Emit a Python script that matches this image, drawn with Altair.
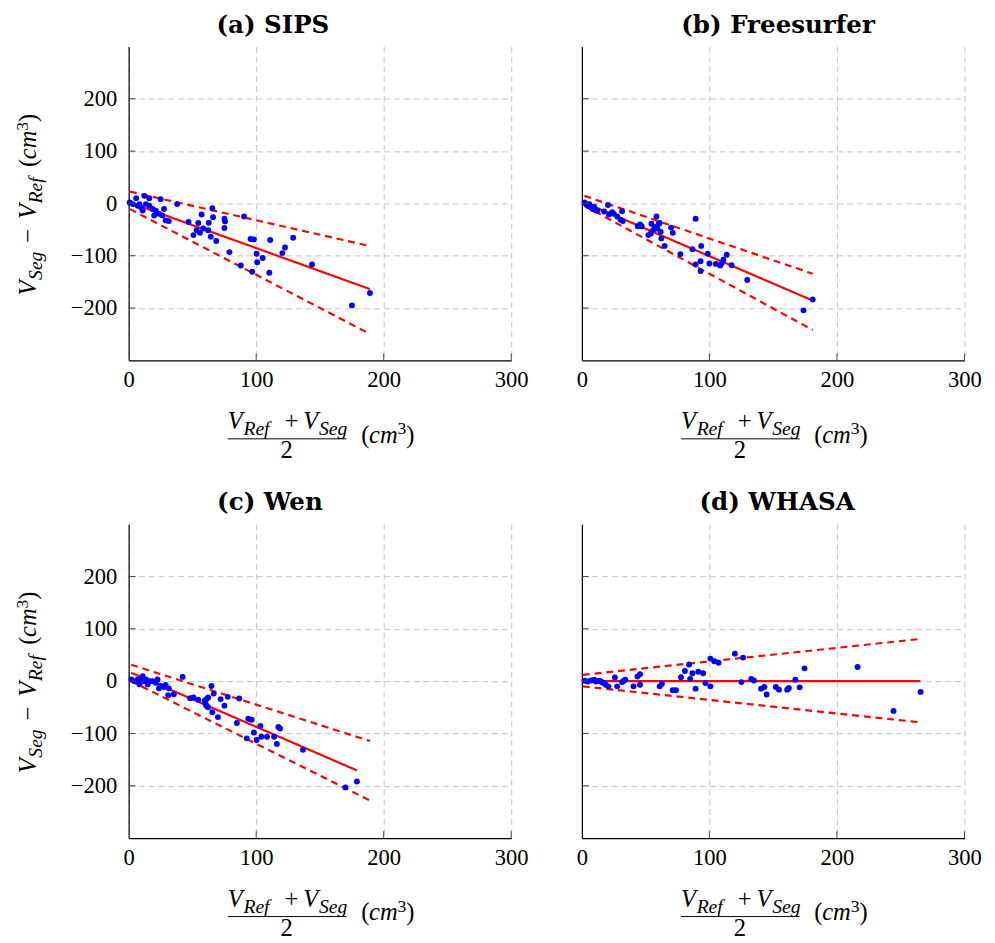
import altair as alt
import pandas as pd

# ---------------- data ----------------
X_TICKS = [0, 100, 200, 300]
Y_TICKS = [-200, -100, 0, 100, 200]

# (a) SIPS
SIPS_X = [0.8, 3.3, 5.9, 7.2, 8.5, 9.7, 11, 12.3, 13.6, 16.2, 16.2, 18.7, 20, 21.3, 23.8, 25.1, 26.4, 27.7, 29, 31.5,
          38, 46.9, 50.8, 53.3, 54.6, 55.9, 57.2, 58.5, 62.3, 62.8, 64.4, 65.6, 66.2, 68.7, 75.1, 75.6, 75.1, 79,
          87.9, 90.5, 95.6, 98.2, 96.9, 100.3, 100.8, 105.1, 110.3, 111, 120.5, 122.6, 129, 143.8, 175.1, 189.2]
SIPS_Y = [1.9, -1.3, 10, -4.4, -1.3, -7.5, -13.8, 14.4, -1.3, 10, -4.4, -10.6, -23, -13.8, -20, 8.1, -23, -10.6, -32.5, -33.8,
          -1.3, -35.6, -60.6, -51.3, -37.5, -56.3, -21.3, -48.1, -51.3, -36.9, -63.8, -9.4, -26.3, -71.9, -29.4, -34.4, -46.9, -93.1,
          -118.8, -25, -68.1, -68.8, -130.6, -96.3, -112.5, -104.4, -132.5, -70, -95, -84.4, -65.6, -116.9, -195, -171.3]

# (b) Freesurfer
FS_X = [2.1, 3.3, 4.6, 5.9, 7.2, 8.5, 9.7, 11, 12.3, 17.4, 20.5, 21.3, 23.8, 25.1, 27.7, 30.3, 31.5, 32.1, 43.8, 45.6,
        46.9, 52.1, 54.1, 54.6, 55.9, 57.2, 58.5, 59.2, 60.3, 61, 61.8, 62.3, 64.9, 70, 71.3, 77.2, 86.7, 89.2, 89.2,
        93.1, 93.6, 93.1, 98.7, 100, 105.1, 108.5, 109.7, 111, 113.6, 117.4, 129.7, 173.8, 181]
FS_Y = [1.9, -1.3, -4.4, -1.3, -7.5, -10.6, -6.3, -13.8, -13.8, -15.6, -3.1, -21.3, -16.9, -20, -25, -31.3, -15, -33.8, -43.8, -40,
        -43.8, -60.6, -57.5, -38.8, -51.3, -45, -25, -48.1, -38.8, -37.5, -54.4, -66.9, -81.3, -46.3, -56.3, -96.9, -87.5, -29.4, -116.9,
        -110.6, -81.3, -129.4, -96.3, -115, -115.6, -118.8, -113.8, -107.5, -98.1, -118.1, -146.3, -204.4, -183.8]

# (c) Wen
WEN_X = [2.1, 4.6, 7.2, 8.5, 9.7, 11, 12.3, 13.6, 14.9, 16.2, 18.7, 21.3, 22.6, 23.8, 25.1, 27.7, 29, 31, 31.5, 35.4,
         42.3, 48.2, 50.8, 54.6, 59.7, 60.3, 61, 62.3, 61, 62.3, 64.9, 65.6, 66.7, 70, 72.1, 75.1, 77.7, 84.9, 86.7,
         92.6, 93.8, 96.4, 98.2, 100.3, 103.3, 104.1, 108.5, 114.1, 116.2, 117.4, 118.7, 136.7, 170, 179]
WEN_Y = [3.1, 0, 3.1, -6.3, 5, 9.4, 0, 3.1, -6.3, 0, 0, -3.1, 3.1, -13.8, -9.4, -11.3, -7.5, -26.9, -13.8, -25,
         8.1, -32.5, -31.3, -35.6, -37.5, -43.8, -34.4, -31.3, -46.9, -50, -9.4, -59.4, -23.8, -68.8, -34.4, -46.9, -30, -80, -33.1,
         -109.4, -71.9, -73.8, -98.1, -112.5, -85.6, -106.3, -106.3, -106.3, -120, -87.5, -90.6, -131.3, -203.1, -191.9]

# (d) WHASA
WH_X = [2.1, 4.6, 7.2, 9.7, 11, 13.6, 14.9, 16.2, 17.4, 18.7, 20.8, 25.9, 27.7, 31.5, 32.8, 34.1, 40.5, 43.6, 45.6, 45.6,
        61, 62.8, 71.3, 73.8, 77.7, 80.8, 84.1, 84.9, 86.7, 89.2, 91.3, 95.1, 96.9, 100.8, 100.8, 103.8, 107.2, 120,
        125.1, 126.4, 132.8, 134.9, 140.5, 143.1, 144.9, 152.1, 154.6, 161, 162.3, 167.4, 170.8, 174.6, 216.2, 244.4, 265.6]
WH_Y = [0.6, -0.6, 1.3, 2.5, -0.6, 0.6, -0.6, -2.5, -3.8, -6.9, -10, 6.9, -10, -1.9, 0.6, 2.5, -10, 8.8, 13.1, -6.9,
        -10, -5, -17.5, -17.5, 7.5, 19.4, 31.9, 4.4, 15, -14.4, 18.1, 15, -3.8, -10, 43.1, 38.1, 35, 52.5,
        -1.9, 45, 4.4, 1.3, -14.4, -11.3, -25.6, -11.3, -16.3, -16.3, -13.1, 2.5, -11.9, 24.4, 26.9, -56.9, -20.6]

# line end points: x pair and y pair for mean, upper and lower limit lines
SIPS_MEAN_X, SIPS_MEAN_Y = [1, 189.2], [1.5, -163.8]
SIPS_UP_X, SIPS_UP_Y = [1, 189.2], [22.5, -81.5]
SIPS_LO_X, SIPS_LO_Y = [1, 189.2], [-11, -249.5]

FS_MEAN_X, FS_MEAN_Y = [2, 181], [1.9, -185.7]
FS_UP_X, FS_UP_Y = [2, 181], [14.4, -134.5]
FS_LO_X, FS_LO_Y = [2, 181], [-4.4, -242]

WEN_MEAN_X, WEN_MEAN_Y = [2, 179], [16, -170.7]
WEN_UP_X, WEN_UP_Y = [2, 189.2], [31.3, -114.4]
WEN_LO_X, WEN_LO_Y = [2, 189.2], [-0.3, -228.3]

WH_MEAN_X, WH_MEAN_Y = [0.8, 265.4], [0, 0]
WH_UP_X, WH_UP_Y = [0.8, 265.4], [11.9, 80.6]
WH_LO_X, WH_LO_Y = [0.8, 265.4], [-10, -78.8]

TITLES = ["(a) SIPS", "(b) Freesurfer", "(c) Wen", "(d) WHASA"]

# ---------------- layout / style ----------------
W, H = 390, 320
SERIF = "Liberation Serif"
ONE = pd.DataFrame({"k": [0]})

xsc = alt.Scale(domain=[0, 300], nice=False, zero=False)
ysc = alt.Scale(domain=[-300, 300], nice=False, zero=False)


def txt(s, x, y, size=25, italic=False, angle=0, align="left"):
    kw = dict(text=s, font=SERIF, fontSize=size, align=align, baseline="alphabetic",
              color="black", angle=angle)
    if italic:
        kw["fontStyle"] = "italic"
    return alt.Chart(ONE).mark_text(**kw).encode(x=alt.value(x), y=alt.value(y))


def x_title():
    b = H + 70  # numerator baseline
    parts = [
        txt("V", 101, b, italic=True),
        txt("Ref", 117, b + 6, size=20, italic=True),
        txt("+", 166, b, align="center"),
        txt("V", 178, b, italic=True),
        txt("Seg", 194, b + 6, size=20, italic=True),
        alt.Chart(ONE).mark_rule(color="black", strokeWidth=1).encode(
            x=alt.value(101), x2=alt.value(222), y=alt.value(H + 80)),
        txt("2", 161, H + 100, align="center"),
        txt("(", 237, H + 84),
        txt("cm", 245, H + 84, italic=True),
        txt("3", 274, H + 75, size=18),
        txt(")", 283, H + 84),
    ]
    return parts


def y_title():
    xb = -94
    y0 = H / 2 + 94
    return [
        txt("V", xb, y0, italic=True, angle=270),
        txt("Seg", xb + 6, y0 - 16, size=20, italic=True, angle=270),
        txt("\u2212", xb, y0 - 54, angle=270),
        txt("V", xb, y0 - 78, italic=True, angle=270),
        txt("Ref", xb + 6, y0 - 94, size=20, italic=True, angle=270),
        txt("(", xb, y0 - 131, angle=270),
        txt("cm", xb, y0 - 139, italic=True, angle=270),
        txt("3", xb - 9, y0 - 168, size=18, angle=270),
        txt(")", xb, y0 - 177, angle=270),
    ]


def panel(xs, ys, mean, up, lo, title, dx, left):
    pts = pd.DataFrame({"x": xs, "y": ys})
    rows = []
    for name, kind, (lx, ly) in [("mean", "solid", mean), ("up", "dash", up), ("lo", "dash", lo)]:
        for a, b in zip(lx, ly):
            rows.append({"id": name, "kind": kind, "x": a, "y": b})
    ldf = pd.DataFrame(rows)

    xaxis = alt.Axis(values=X_TICKS, title=None, grid=True, labelPadding=9, labelFlush=False)
    yaxis = alt.Axis(values=Y_TICKS, title=None, grid=True, labels=left, labelPadding=12, labelFlush=False)

    lines = alt.Chart(ldf).mark_line(color="#ff0000", strokeWidth=2.2).encode(
        x=alt.X("x:Q", scale=xsc, axis=xaxis),
        y=alt.Y("y:Q", scale=ysc, axis=yaxis),
        detail="id:N",
        strokeDash=alt.StrokeDash("kind:N", scale=alt.Scale(domain=["solid", "dash"], range=[[1, 0], [7, 5]]),
                                  legend=None),
    )
    points = alt.Chart(pts).mark_circle(size=36, color="#0000ff", opacity=1).encode(
        x=alt.X("x:Q", scale=xsc, axis=xaxis),
        y=alt.Y("y:Q", scale=ysc, axis=yaxis),
    )
    yt = alt.Chart(pd.DataFrame({"y": Y_TICKS})).mark_rule(color="#444444", strokeWidth=1).encode(
        y=alt.Y("y:Q", scale=ysc, axis=yaxis), x=alt.value(0), x2=alt.value(7))
    xt = alt.Chart(pd.DataFrame({"x": X_TICKS[1:]})).mark_rule(color="#444444", strokeWidth=1).encode(
        x=alt.X("x:Q", scale=xsc, axis=xaxis), y=alt.value(H), y2=alt.value(H - 7))

    layers = [lines, points, yt, xt] + x_title()
    if left:
        layers += y_title()
    return alt.layer(*layers).properties(
        width=W, height=H,
        title=alt.TitleParams(title, font="DejaVu Serif", fontSize=25, fontWeight="bold", anchor="middle",
                              frame="group", dx=dx, offset=-11, baseline="alphabetic", color="black"),
    )


pa = panel(SIPS_X, SIPS_Y, (SIPS_MEAN_X, SIPS_MEAN_Y), (SIPS_UP_X, SIPS_UP_Y), (SIPS_LO_X, SIPS_LO_Y),
           TITLES[0], -48, True)
pb = panel(FS_X, FS_Y, (FS_MEAN_X, FS_MEAN_Y), (FS_UP_X, FS_UP_Y), (FS_LO_X, FS_LO_Y),
           TITLES[1], 5, False)
pc = panel(WEN_X, WEN_Y, (WEN_MEAN_X, WEN_MEAN_Y), (WEN_UP_X, WEN_UP_Y), (WEN_LO_X, WEN_LO_Y),
           TITLES[2], -51, True)
pd_ = panel(WH_X, WH_Y, (WH_MEAN_X, WH_MEAN_Y), (WH_UP_X, WH_UP_Y), (WH_LO_X, WH_LO_Y),
            TITLES[3], 4, False)

row1 = alt.hconcat(pa, pb, spacing=48)
row2 = alt.hconcat(pc, pd_, spacing=48)
chart = alt.vconcat(row1, row2, spacing=28).configure_view(strokeWidth=0).configure_axis(
    domainColor="black", domainWidth=1.2, gridColor="#c4c4c4", gridDash=[6, 4], gridWidth=1,
    tickSize=0, labelFont=SERIF, labelFontSize=23, labelColor="black",
).properties(background="white", padding={"left": 6, "top": -4, "right": 5, "bottom": 5})

chart.save("out.html", embed_options={"renderer": "svg", "actions": False})
